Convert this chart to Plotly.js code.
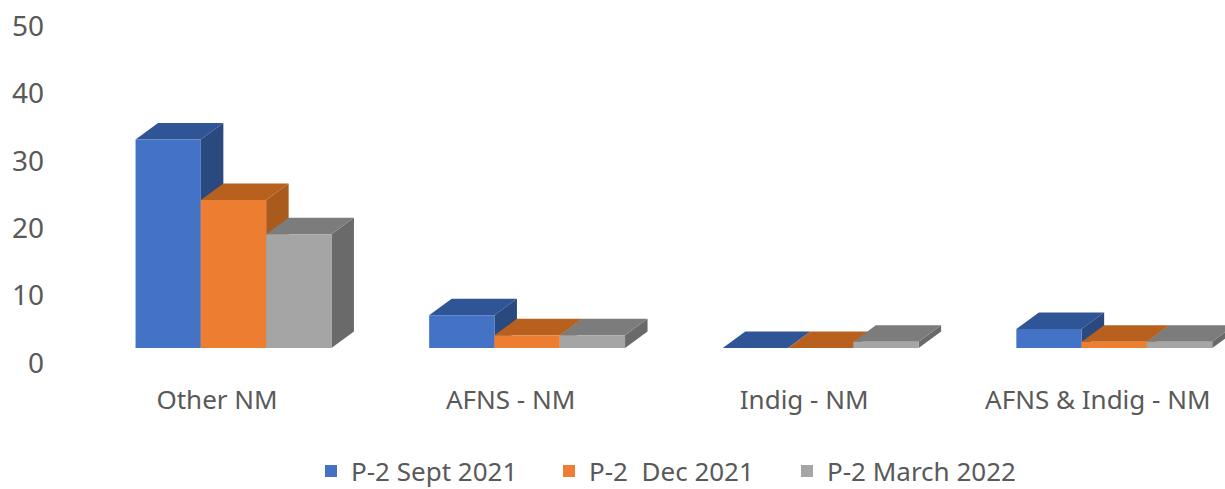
<!DOCTYPE html>
<html><head><meta charset="utf-8">
<script src="https://cdn.plot.ly/plotly-3.0.1.min.js"></script>
<style>html,body{margin:0;padding:0;background:#fff;overflow:hidden}#c{width:1225px;height:489px;overflow:hidden}</style>
</head><body><div id="c"></div>
<script>
// Data
const categories = ["Other NM", "AFNS - NM", "Indig - NM", "AFNS & Indig - NM"];
const sept2021 = [33, 5.2, 0, 3];
const dec2021 = [23.4, 2, 0, 1];
const march2022 = [18, 2, 1, 1];
const seriesNames = ["P-2 Sept 2021", "P-2\u00A0 Dec 2021", "P-2 March 2022"];
const yTicks = [0, 10, 20, 30, 40, 50];

// Styles
const frontColors = ["#4472C4", "#ED7D31", "#A5A5A5"];
const topColors = ["#2F5597", "#B8611F", "#7C7C7C"];
const sideColors = ["#29497F", "#AB5A1D", "#6A6A6A"];
const textColor = "#595959";
const font = "Noto Sans, sans-serif";

// Layout geometry (pixels); the figure runs a little below the clipped page so the legend fits
const W = 1225, H = 510, mL = 50, mT = 10, mB = 128;
const groupPx = 293.6, firstCenterPx = 233.5;
const axisZeroPx = 363, axisPxPerUnit = 6.74;
const frontZeroPx = 348, frontPxPerUnit = 6.32;
const depthXPx = 22.5, depthYPx = 16.5, labelShiftPx = 16.5;
const plotBottom = H - mB, plotW = W - mL, plotH = plotBottom - mT;
const xRange = [(mL - firstCenterPx) / groupPx, (W - firstCenterPx) / groupPx];
const yRange = [(axisZeroPx - plotBottom) / axisPxPerUnit, (axisZeroPx - mT) / axisPxPerUnit];
const frontRange = [(frontZeroPx - plotBottom) / frontPxPerUnit, (frontZeroPx - mT) / frontPxPerUnit];

const dx = depthXPx / groupPx, dy = depthYPx / frontPxPerUnit;
const groupWidth = 3 * 65.3 / groupPx, barW = groupWidth / 3;
const allSeries = [sept2021, dec2021, march2022];

const traces = [{type: "scatter", x: [null], y: [null], xaxis: "x", yaxis: "y", showlegend: false, hoverinfo: "skip"}];

// Depth faces, derived from the values
allSeries.forEach((vals, s) => {
  const sx = [], sy = [], tx = [], ty = [];
  vals.forEach((v, i) => {
    const l = i - groupWidth / 2 + s * barW, r = l + barW;
    tx.push(l, l + dx, r + dx, r, l, null);
    ty.push(v, v + dy, v + dy, v, v, null);
    if (v > 0) {
      sx.push(r, r + dx, r + dx, r, r, null);
      sy.push(0, dy, v + dy, v, 0, null);
    }
  });
  traces.push({type: "scatter", mode: "none", x: sx, y: sy, xaxis: "x", yaxis: "y2", fill: "toself",
    fillcolor: sideColors[s], showlegend: false, hoverinfo: "skip"});
  traces.push({type: "scatter", mode: "none", x: tx, y: ty, xaxis: "x", yaxis: "y2", fill: "toself",
    fillcolor: topColors[s], showlegend: false, hoverinfo: "skip"});
});

// Front faces
allSeries.forEach((vals, s) => {
  traces.push({type: "bar", name: seriesNames[s], x: categories, y: vals, xaxis: "x2", yaxis: "y3",
    marker: {color: frontColors[s], line: {width: 0}}});
});

const layout = {
  width: W, height: H, margin: {l: mL, r: 0, t: mT, b: mB},
  paper_bgcolor: "#fff", plot_bgcolor: "#fff",
  font: {family: font, color: textColor, size: 26},
  barmode: "group", bargap: 1 - groupWidth, bargroupgap: 0,
  showlegend: true,
  legend: {orientation: "h", x: (311 - mL) / plotW, xanchor: "left", y: -(471 - plotBottom) / plotH, yanchor: "middle",
    entrywidth: 193, entrywidthmode: "pixels",
    font: {family: font, size: 26, color: textColor}, traceorder: "normal"},
  xaxis: {range: xRange, tickmode: "array", tickvals: categories.map((c, i) => i - labelShiftPx / groupPx),
    ticktext: categories, showgrid: false, zeroline: false, showline: false, ticks: "",
    tickfont: {family: font, size: 26, color: textColor}, fixedrange: true},
  yaxis: {range: yRange, tickmode: "array", tickvals: yTicks, showgrid: false, zeroline: false, showline: false,
    ticks: "", ticklabelstandoff: 5, tickfont: {family: font, size: 28, color: textColor}, fixedrange: true},
  yaxis2: {range: frontRange, overlaying: "y", visible: false, fixedrange: true},
  xaxis2: {type: "category", categoryorder: "array", categoryarray: categories, range: xRange, overlaying: "x", visible: false, fixedrange: true},
  yaxis3: {range: frontRange, overlaying: "y", visible: false, fixedrange: true}
};
Plotly.newPlot("c", traces, layout, {displayModeBar: false, staticPlot: true});
</script></body></html>
